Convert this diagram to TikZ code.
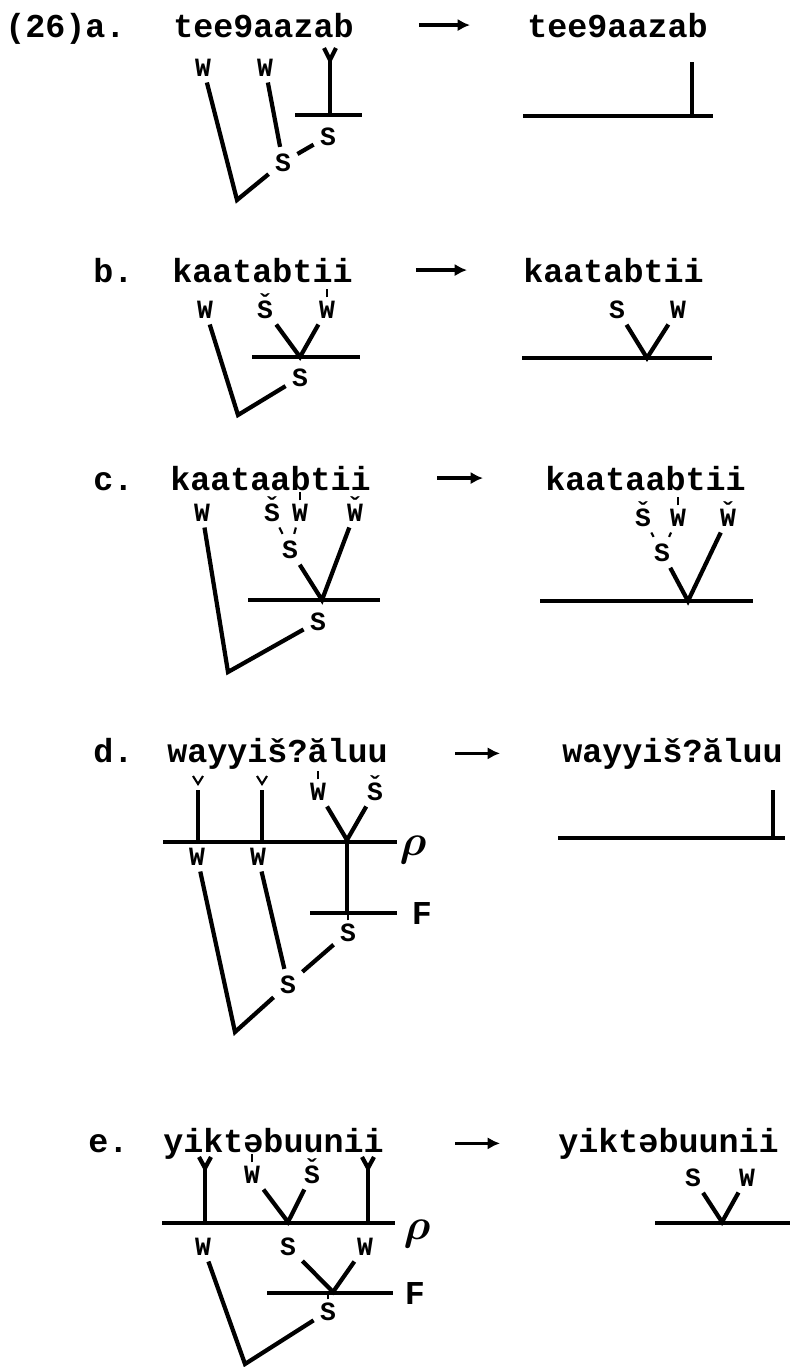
\documentclass[tikz,border=0pt]{standalone}
\usepackage{bm}
\usepackage{fontspec}
\setmonofont{Liberation Mono}
\usetikzlibrary{arrows.meta}

\newcommand\txtfont{\fontsize{19}{19}\selectfont\ttfamily\bfseries}
\newcommand\labfont{\fontsize{15}{15}\selectfont\ttfamily\bfseries}
% caron and stress tick over a label
\newcommand\hk[1]{\ooalign{#1\cr\hidewidth\raisebox{0.22em}{ˇ}\hidewidth\cr}}
\newcommand\str[1]{\ooalign{#1\cr\hidewidth\raisebox{0.78em}{\rule{1.1pt}{0.33em}}\hidewidth\cr}}

\begin{document}
\begin{tikzpicture}[x=0.02cm, y=-0.02cm,
    word/.style={font=\txtfont, inner sep=0pt, anchor=base west},
    lab/.style={font=\labfont, inner sep=3.5pt, anchor=base},
    rho/.style={font=\fontsize{26}{26}\selectfont},
    tree/.style={line width=2.4pt},
    tick/.style={line width=1.2pt},
    arr/.style={line width=2pt, -{Latex[length=7pt, width=7pt]}}
  ]
  \useasboundingbox (0,0) rectangle (793,1367);

  % (26a)
  \node[word] (na) at (5,37) {(26)a.};
  \node[word] (la) at (173,37) {tee9aazab};
  \node[word] (ra) at (527,37) {tee9aazab};
  \draw[arr, shorten <=1.3cm, shorten >=1.14cm] (la.east) -- (ra.west);

  \node[lab] (a-w1) at (203,76) {W};
  \node[lab] (a-w2) at (265,76) {W};
  \node[lab] (a-sf) at (328,145) {S};
  \node[lab] (a-s) at (283,171) {S};
  \coordinate (a-v) at (237,200);
  \coordinate (a-y) at (330,60);
  \coordinate (a-bl) at (295,115);
  \coordinate (a-br) at (362,115);
  \draw[tree] (a-w1) -- (a-v) -- (a-s);
  \draw[tree] (a-w2) -- (a-s);
  \draw[tree] (a-s) -- (a-sf);
  \draw[tree] (a-y) ++(-6,-12) -- (a-y) -- ++(6,-12);
  \draw[tree] (a-y) -- (a-y |- a-bl);
  \draw[tree] (a-bl) -- (a-br);

  \coordinate (ra-t) at (692,62);
  \coordinate (ra-bl) at (523,116);
  \coordinate (ra-br) at (713,116);
  \draw[tree] (ra-t) -- (ra-t |- ra-bl);
  \draw[tree] (ra-bl) -- (ra-br);

  % (26b)
  \node[word] (nb) at (93,282) {b.};
  \node[word] (lb) at (172,282) {kaatabtii};
  \node[word] (rb) at (523,282) {kaatabtii};
  \draw[arr, shorten <=1.26cm, shorten >=1.12cm] (lb.east) -- (rb.west);

  \node[lab] (b-w1) at (205,318) {W};
  \node[lab] (b-s1) at (265,318) {\hk{S}};
  \node[lab] (b-w2) at (327,318) {\str{W}};
  \node[lab] (b-sf) at (300,386) {S};
  \coordinate (b-v) at (238,415);
  \coordinate (b-f) at (300,357);
  \coordinate (b-bl) at (252,357);
  \coordinate (b-br) at (360,357);
  \draw[tree] (b-w1) -- (b-v) -- (b-sf);
  \draw[tree] (b-s1) -- (b-f) -- (b-w2);
  \draw[tree] (b-bl) -- (b-br);

  \node[lab] (rb-s) at (617,318) {S};
  \node[lab] (rb-w) at (678,318) {W};
  \coordinate (rb-f) at (647,358);
  \coordinate (rb-bl) at (522,358);
  \coordinate (rb-br) at (712,358);
  \draw[tree] (rb-s) -- (rb-f) -- (rb-w);
  \draw[tree] (rb-bl) -- (rb-br);

  % (26c)
  \node[word] (nc) at (93,490) {c.};
  \node[word] (lc) at (170,490) {kaataabtii};
  \node[word] (rc) at (545,490) {kaataabtii};
  \draw[arr, shorten <=1.32cm, shorten >=1.24cm] (lc.east) -- (rc.west);

  \node[lab] (c-w1) at (202,521) {W};
  \node[lab] (c-s1) at (272,521) {\hk{S}};
  \node[lab] (c-w2) at (300,521) {\str{W}};
  \node[lab] (c-w3) at (355,521) {\hk{W}};
  \node[lab] (c-s) at (290,558) {S};
  \node[lab] (c-sf) at (318,630) {S};
  \coordinate (c-f) at (322,600);
  \coordinate (c-v) at (228,672);
  \coordinate (c-bl) at (248,600);
  \coordinate (c-br) at (380,600);
  \draw[tick] (c-s1) -- (c-s);
  \draw[tick] (c-w2) -- (c-s);
  \draw[tree] (c-s) -- (c-f) -- (c-w3);
  \draw[tree] (c-bl) -- (c-br);
  \draw[tree] (c-w1) -- (c-v) -- (c-sf);

  \node[lab] (rc-s1) at (643,526) {\hk{S}};
  \node[lab] (rc-w2) at (678,526) {\str{W}};
  \node[lab] (rc-w3) at (728,526) {\hk{W}};
  \node[lab] (rc-s) at (662,561) {S};
  \coordinate (rc-f) at (688,601);
  \coordinate (rc-bl) at (540,601);
  \coordinate (rc-br) at (753,601);
  \draw[tick] (rc-s1) -- (rc-s);
  \draw[tick] (rc-w2) -- (rc-s);
  \draw[tree] (rc-s) -- (rc-f) -- (rc-w3);
  \draw[tree] (rc-bl) -- (rc-br);

  % (26d)
  \node[word] (nd) at (93,762) {d.};
  \node[word] (ld) at (167,762) {wayyiš?ăluu};
  \node[word] (rd) at (562,762) {wayyiš?ăluu};
  \draw[arr, shorten <=1.34cm, shorten >=1.24cm] (ld.east) -- (rd.west);

  \coordinate (d-y1) at (198,784);
  \coordinate (d-y2) at (262,784);
  \coordinate (d-bl) at (163,842);
  \coordinate (d-br) at (397,842);
  \coordinate (d-f) at (347,840);
  \coordinate (d-fl) at (310,913);
  \coordinate (d-fr) at (397,913);
  \coordinate (d-v) at (235,1032);
  \node[lab] (d-w3) at (318,800) {\str{W}};
  \node[lab] (d-s3) at (375,800) {\hk{S}};
  \node[lab] (d-w1) at (197,865) {W};
  \node[lab] (d-w2) at (258,865) {W};
  \node[lab] (d-sf) at (348,941) {\str{S}};
  \node[lab] (d-s) at (288,993) {S};
  \node[rho] (d-rho) at (413,850) {$\bm{\rho}$};
  \node[font=\txtfont] (d-F) at (422,913) {F};
  \draw[tick] (d-y1) ++(-5,-8) -- (d-y1) -- ++(5,-8);
  \draw[tick] (d-y2) ++(-5,-8) -- (d-y2) -- ++(5,-8);
  \draw[tree] (d-y1) ++(0,6) -- (d-y1 |- d-bl);
  \draw[tree] (d-y2) ++(0,6) -- (d-y2 |- d-bl);
  \draw[tree] (d-bl) -- (d-br);
  \draw[tree] (d-w3) -- (d-f) -- (d-s3);
  \draw[tree] (d-f) -- (d-f |- d-fl);
  \draw[tree] (d-fl) -- (d-fr);
  \draw[tree] (d-w1) -- (d-v) -- (d-s);
  \draw[tree] (d-w2) -- (d-s);
  \draw[tree] (d-s) -- (d-sf);

  \coordinate (rd-t) at (773,790);
  \coordinate (rd-bl) at (558,838);
  \coordinate (rd-br) at (785,838);
  \draw[tree] (rd-t) -- (rd-t |- rd-bl);
  \draw[tree] (rd-bl) -- (rd-br);

  % (26e)
  \node[word] (ne) at (88,1152) {e.};
  \node[word] (le) at (163,1152) {yiktəbuunii};
  \node[word] (re) at (558,1152) {yiktəbuunii};
  \draw[arr, shorten <=1.42cm, shorten >=1.16cm] (le.east) -- (re.west);

  \coordinate (e-y1) at (205,1168);
  \coordinate (e-y2) at (368,1168);
  \coordinate (e-bl) at (162,1223);
  \coordinate (e-br) at (395,1223);
  \coordinate (e-f1) at (288,1222);
  \coordinate (e-f2) at (333,1292);
  \coordinate (e-fl) at (267,1293);
  \coordinate (e-fr) at (393,1293);
  \coordinate (e-v) at (245,1364);
  \node[lab] (e-w1) at (252,1183) {\str{W}};
  \node[lab] (e-s1) at (312,1183) {\hk{S}};
  \node[lab] (e-w2) at (203,1255) {W};
  \node[lab] (e-s2) at (288,1255) {S};
  \node[lab] (e-w3) at (365,1255) {W};
  \node[lab] (e-sf) at (328,1320) {\str{S}};
  \node[rho] (e-rho) at (417,1234) {$\bm{\rho}$};
  \node[font=\txtfont] (e-F) at (415,1293) {F};
  \draw[tree] (e-y1) ++(-6,-11) -- (e-y1) -- ++(6,-11);
  \draw[tree] (e-y2) ++(-6,-11) -- (e-y2) -- ++(6,-11);
  \draw[tree] (e-y1) -- (e-y1 |- e-bl);
  \draw[tree] (e-y2) -- (e-y2 |- e-bl);
  \draw[tree] (e-bl) -- (e-br);
  \draw[tree] (e-w1) -- (e-f1) -- (e-s1);
  \draw[tree] (e-s2) -- (e-f2) -- (e-w3);
  \draw[tree] (e-fl) -- (e-fr);
  \draw[tree] (e-w2) -- (e-v) -- (e-sf);

  \node[lab] (re-s) at (693,1186) {S};
  \node[lab] (re-w) at (747,1186) {W};
  \coordinate (re-f) at (722,1222);
  \coordinate (re-bl) at (655,1223);
  \coordinate (re-br) at (790,1223);
  \draw[tree] (re-s) -- (re-f) -- (re-w);
  \draw[tree] (re-bl) -- (re-br);

\end{tikzpicture}
\end{document}
